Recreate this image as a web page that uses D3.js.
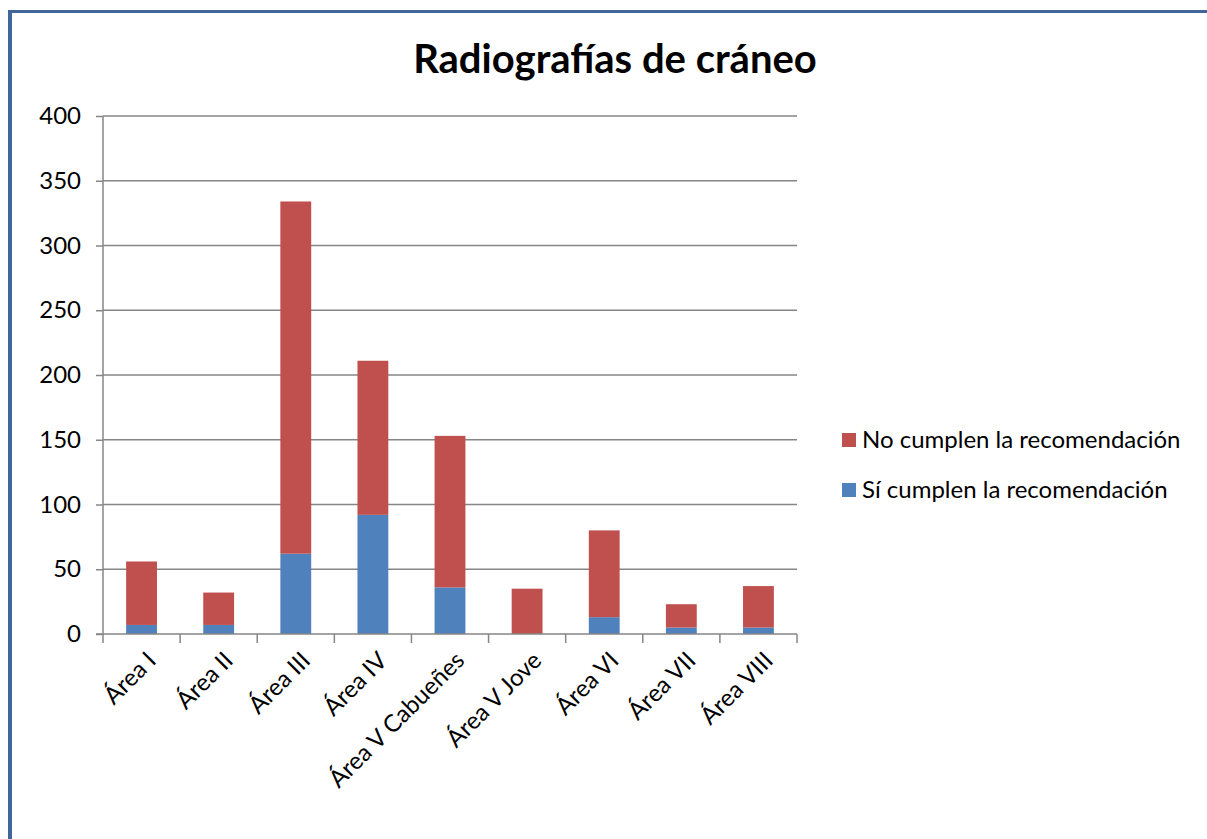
<!DOCTYPE html>
<html>
<head>
<meta charset="utf-8">
<script src="https://cdn.jsdelivr.net/npm/d3@7"></script>
<style>
html,body{margin:0;padding:0;background:#fff;}
svg{display:block;}
text{font-family:Lato,"Open Sans",sans-serif;fill:#000;}
</style>
</head>
<body>
<svg id="chart" width="1207" height="839"></svg>
<script>
const categories = ["Área I","Área II","Área III","Área IV","Área V Cabueñes","Área V Jove","Área VI","Área VII","Área VIII"];
const siCumplen = [7, 7, 62, 92, 36, 0, 13, 5, 5];
const noCumplen = [49, 25, 272, 119, 117, 35, 67, 18, 32];
const seriesNames = ["Sí cumplen la recomendación","No cumplen la recomendación"];
const seriesColors = ["#4f81bd","#c0504d"];
const yTicks = [0,50,100,150,200,250,300,350,400];
const title = "Radiografías de cráneo";

(function(){
const svg = d3.select("#chart");
const FS = 24;
// frame
svg.append("rect").attr("x",8).attr("y",10).attr("width",4).attr("height",829).attr("fill","#41669a");
svg.append("rect").attr("x",8).attr("y",10).attr("width",1199).attr("height",3).attr("fill","#41669a");

const pL = 103, pR = 797, pT = 116, pB = 634;
const x = d3.scaleBand().domain(categories).range([pL,pR]).paddingInner(0.6).paddingOuter(0.3);
const y = d3.scaleLinear().domain([0,400]).range([pB,pT]);

// gridlines
svg.append("g").selectAll("line").data(yTicks.slice(1)).join("line")
  .attr("x1",pL).attr("x2",pR).attr("y1",d=>y(d)).attr("y2",d=>y(d))
  .attr("stroke","#868686").attr("stroke-width",1.5);

const data = categories.map((c,i)=>({cat:c, si:siCumplen[i], no:noCumplen[i]}));
const stack = d3.stack().keys(["si","no"])(data);
svg.append("g").selectAll("g").data(stack).join("g")
  .attr("fill",(d,i)=>seriesColors[i])
  .selectAll("rect").data(d=>d).join("rect")
  .attr("x",d=>x(d.data.cat)).attr("width",x.bandwidth())
  .attr("y",d=>y(d[1])).attr("height",d=>y(d[0])-y(d[1]));

// y axis
const yAxis = d3.axisLeft(y).tickValues(yTicks).tickSize(7).tickPadding(15);
const gy = svg.append("g").attr("transform",`translate(${pL},0)`).call(yAxis);
gy.select(".domain").attr("stroke","#868686").attr("stroke-width",1.5).attr("d",`M0,${pT}V${pB}`);
gy.selectAll(".tick line").attr("stroke","#868686").attr("stroke-width",1.5);
gy.selectAll(".tick text").attr("font-size",FS).attr("font-family","Lato,'Open Sans',sans-serif").attr("fill","#000");

// x axis
const gx = svg.append("g").attr("transform",`translate(0,${pB})`);
gx.append("line").attr("x1",pL-7).attr("x2",pR).attr("y1",0).attr("y2",0).attr("stroke","#868686").attr("stroke-width",1.5);
const step = x.step();
const boundaries = d3.range(categories.length+1).map(i=>pL+i*step);
gx.selectAll("line.tk").data(boundaries).join("line").attr("class","tk")
  .attr("x1",d=>d).attr("x2",d=>d).attr("y1",0).attr("y2",9)
  .attr("stroke","#868686").attr("stroke-width",1.5);
gx.selectAll("text").data(categories).join("text")
  .attr("transform",d=>`translate(${x(d)+x.bandwidth()/2+10},${22}) rotate(-45)`)
  .attr("text-anchor","end").attr("font-size",FS).attr("dy","0.35em").text(d=>d);

// title
svg.append("text").attr("x",615).attr("y",73).attr("text-anchor","middle")
  .attr("font-size",40).attr("font-weight","bold").text(title);

// legend
const legendOrder = [1,0];
const lg = svg.append("g");
legendOrder.forEach((si,k)=>{
  const yy = 440 + k*50;
  lg.append("rect").attr("x",842).attr("y",yy-7).attr("width",14).attr("height",14).attr("fill",seriesColors[si]);
  lg.append("text").attr("x",862).attr("y",yy).attr("dy","0.35em").attr("font-size",FS).text(seriesNames[si]);
});
})();
</script>
</body>
</html>
